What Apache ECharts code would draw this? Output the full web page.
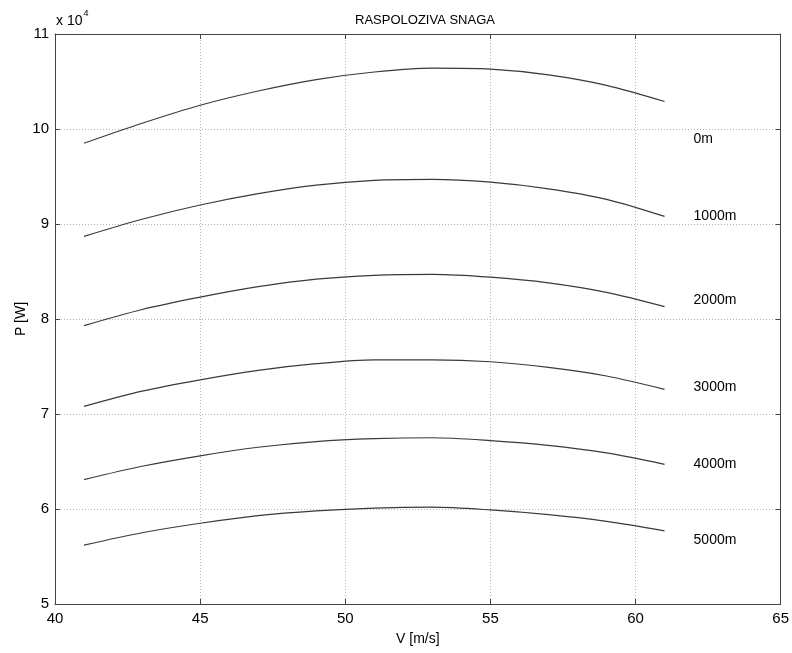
<!DOCTYPE html>
<html>
<head>
<meta charset="utf-8">
<script src="https://cdn.jsdelivr.net/npm/echarts@6/dist/echarts.min.js"></script>
<style>
  html, body { margin: 0; padding: 0; background: #fff; }
  #chart { width: 792px; height: 653px; }
</style>
</head>
<body>
<div id="chart"></div>
<script>
// brzine [m/s]
var speeds = [41, 43, 45, 47, 49, 51, 53, 55, 57, 59, 61];
// raspoloziva snaga, x 10^4 W, po visinama
var p0 = [9.85, 10.06, 10.25, 10.40, 10.52, 10.60, 10.64, 10.63, 10.57, 10.46, 10.29];
var p1000 = [8.87, 9.05, 9.20, 9.32, 9.41, 9.46, 9.47, 9.44, 9.37, 9.26, 9.08];
var p2000 = [7.93, 8.10, 8.23, 8.34, 8.42, 8.46, 8.47, 8.44, 8.38, 8.28, 8.13];
var p3000 = [7.08, 7.24, 7.36, 7.46, 7.53, 7.57, 7.57, 7.55, 7.49, 7.40, 7.26];
var p4000 = [6.31, 6.45, 6.56, 6.65, 6.71, 6.74, 6.75, 6.72, 6.67, 6.59, 6.47];
var p5000 = [5.62, 5.75, 5.85, 5.93, 5.98, 6.01, 6.02, 5.99, 5.94, 5.87, 5.77];
var heights = ["0m", "1000m", "2000m", "3000m", "4000m", "5000m"];
// gdje stoje natpisi (V, P)
var labelX = 62;
var labelY = [9.895, 9.08, 8.20, 7.28, 6.47, 5.67];
var xTicks = [40, 45, 50, 55, 60, 65];
var yTicks = [5, 6, 7, 8, 9, 10, 11];

var allP = [p0, p1000, p2000, p3000, p4000, p5000];
var font = "Liberation Sans, Arial, sans-serif";

var chart = echarts.init(document.getElementById("chart"));

var series = allP.map(function (vals, i) {
  return {
    name: heights[i],
    type: "line",
    smooth: 0.3,
    symbol: "none",
    lineStyle: { color: "#3a3a3a", width: 1.2 },
    data: speeds.map(function (v, j) { return [v, vals[j]]; }),
    markPoint: {
      symbol: "circle",
      symbolSize: 0,
      silent: true,
      label: {
        show: true,
        position: "right",
        distance: 0,
        formatter: heights[i],
        color: "#000",
        fontFamily: font,
        fontSize: 14
      },
      data: [{ coord: [labelX, labelY[i]] }]
    }
  };
});

var axisLine = { show: true, lineStyle: { color: "#444", width: 1 } };
var tick = { show: true, inside: true, length: 5, lineStyle: { color: "#444" } };

var option = {
  animation: false,
  backgroundColor: "#fff",
  title: {
    text: "RASPOLOZIVA SNAGA",
    left: 420,
    textAlign: "center",
    top: 9,
    textStyle: { fontFamily: font, fontSize: 13, fontWeight: "normal", color: "#000" }
  },
  graphic: [{
    type: "text",
    left: 56,
    top: 9,
    style: {
      text: "{b|x 10}{s|4}",
      rich: {
        b: { fontFamily: font, fontSize: 14, fill: "#000", verticalAlign: "bottom", lineHeight: 19 },
        s: { fontFamily: font, fontSize: 9, fill: "#000", verticalAlign: "top", lineHeight: 19, padding: [0, 0, 9, 1] }
      }
    }
  }],
  grid: { left: 55, right: 7, top: 34, bottom: 49, containLabel: false },
  xAxis: [{
    type: "value",
    min: 40, max: 65, interval: 5,
    name: "V [m/s]",
    nameLocation: "middle",
    nameGap: 28,
    nameTextStyle: { fontFamily: font, fontSize: 14, color: "#000" },
    axisLine: axisLine,
    axisTick: tick,
    axisLabel: {
      fontFamily: font, fontSize: 15, color: "#000", margin: 7,
      formatter: function (v) { return xTicks.indexOf(v) >= 0 ? String(v) : ""; }
    },
    splitLine: { show: true, lineStyle: { color: "#b5b5b5", type: [1, 2], width: 1 } }
  }, {
    type: "value",
    position: "top",
    min: 40, max: 65, interval: 5,
    axisLine: axisLine,
    axisTick: tick,
    axisLabel: { show: false },
    splitLine: { show: false }
  }],
  yAxis: [{
    type: "value",
    min: 5, max: 11, interval: 1,
    name: "P [W]",
    nameLocation: "middle",
    nameGap: 27,
    nameMoveOverlap: false,
    nameTextStyle: { fontFamily: font, fontSize: 14, color: "#000" },
    axisLine: axisLine,
    axisTick: tick,
    axisLabel: {
      fontFamily: font, fontSize: 15, color: "#000", margin: 6,
      formatter: function (v) { return yTicks.indexOf(v) >= 0 ? String(v) : ""; }
    },
    splitLine: { show: true, lineStyle: { color: "#b5b5b5", type: [1, 2], width: 1 } }
  }, {
    type: "value",
    position: "right",
    min: 5, max: 11, interval: 1,
    axisLine: axisLine,
    axisTick: tick,
    axisLabel: { show: false },
    splitLine: { show: false }
  }],
  series: series
};

chart.setOption(option);
</script>
</body>
</html>
